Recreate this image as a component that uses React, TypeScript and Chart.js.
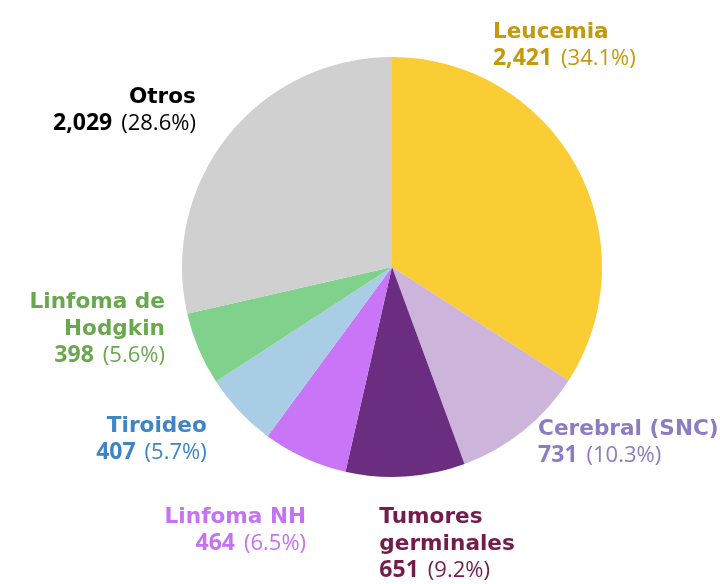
import React, { useEffect, useRef } from "react";
import { Chart, registerables } from "chart.js";

Chart.register(...registerables);

const categories = [
  "Leucemia",
  "Cerebral (SNC)",
  "Tumores germinales",
  "Linfoma NH",
  "Tiroideo",
  "Linfoma de Hodgkin",
  "Otros",
];
const displayNames = [
  "Leucemia",
  "Cerebral (SNC)",
  "Tumores\ngerminales",
  "Linfoma NH",
  "Tiroideo",
  "Linfoma de\nHodgkin",
  "Otros",
];
const values = [2421, 731, 651, 464, 407, 398, 2029];

const sliceColors = ["#FBCD34", "#CDB4DA", "#6B2D7F", "#C875F8", "#A9CDE5", "#7FD18B", "#D0D0D0"];
const labelColors = ["#C49A0C", "#8E7CC3", "#741C4C", "#C672F5", "#3D85C6", "#6AA84F", "#000000"];
const labelAlign = ["left", "left", "left", "right", "right", "right", "right"];
// nudges of each label from its slice's outer mid-point
const labelNudge: [number, number][] = [
  [-83.4, -128],
  [14.7, 4.2],
  [-26.2, 46.7],
  [1.4, 65],
  [-32.6, 20.4],
  [-33.7, -40.7],
  [-31.9, -33],
];

const NAME_FONT = 'bold 21.6px "DejaVu Sans", sans-serif';
const NUM_FONT = 'bold 23px "Open Sans", sans-serif';
const PCT_FONT = '22px "Open Sans", sans-serif';
const GAP = 9;
const LINE_H = 27;

const labelPlugin = {
  id: "outerLabels",
  afterDatasetsDraw(chart: any) {
    const ctx = chart.ctx as CanvasRenderingContext2D;
    const meta = chart.getDatasetMeta(0);
    const data = chart.data.datasets[0].data as number[];
    const total = data.reduce((a, b) => a + b, 0);
    ctx.save();
    ctx.textBaseline = "alphabetic";
    meta.data.forEach((arc: any, i: number) => {
      const p = arc.getProps(["x", "y", "startAngle", "endAngle", "outerRadius"], true);
      const mid = (p.startAngle + p.endAngle) / 2;
      const ax = p.x + Math.cos(mid) * p.outerRadius + labelNudge[i][0];
      const ay = p.y + Math.sin(mid) * p.outerRadius + labelNudge[i][1];
      const align = labelAlign[i];
      ctx.fillStyle = labelColors[i];
      const lines = displayNames[i].split("\n");
      ctx.font = NAME_FONT;
      ctx.textAlign = align as CanvasTextAlign;
      lines.forEach((ln, j) => ctx.fillText(ln, ax, ay + j * LINE_H));
      const y2 = ay + lines.length * LINE_H;
      const numTxt = data[i].toLocaleString("en-US");
      const pctTxt = `(${((data[i] / total) * 100).toFixed(1)}%)`;
      ctx.font = NUM_FONT;
      const wNum = ctx.measureText(numTxt).width;
      ctx.font = PCT_FONT;
      const wPct = ctx.measureText(pctTxt).width;
      const x0 = align === "right" ? ax - wNum - GAP - wPct : ax;
      ctx.textAlign = "left";
      ctx.font = NUM_FONT;
      ctx.fillText(numTxt, x0, y2);
      ctx.font = PCT_FONT;
      ctx.fillText(pctTxt, x0 + wNum + GAP, y2);
    });
    ctx.restore();
  },
};

export default function App() {
  const ref = useRef<HTMLCanvasElement>(null);
  useEffect(() => {
    if (!ref.current) return;
    const chart = new Chart(ref.current, {
      type: "pie",
      data: {
        labels: categories,
        datasets: [
          {
            data: values,
            backgroundColor: sliceColors,
            borderWidth: 0,
            hoverOffset: 0,
            offset: 0,
          },
        ],
      },
      options: {
        responsive: false,
        animation: false,
        layout: { padding: { left: 182, right: 118, top: 57, bottom: 107 } },
        plugins: {
          legend: { display: false },
          tooltip: { enabled: false },
        },
      },
      plugins: [labelPlugin],
    });
    return () => chart.destroy();
  }, []);
  return (
    <div style={{ position: "absolute", left: 0, top: 0, width: 720, height: 584, background: "#fff" }}>
      <canvas ref={ref} width={720} height={584} />
    </div>
  );
}
